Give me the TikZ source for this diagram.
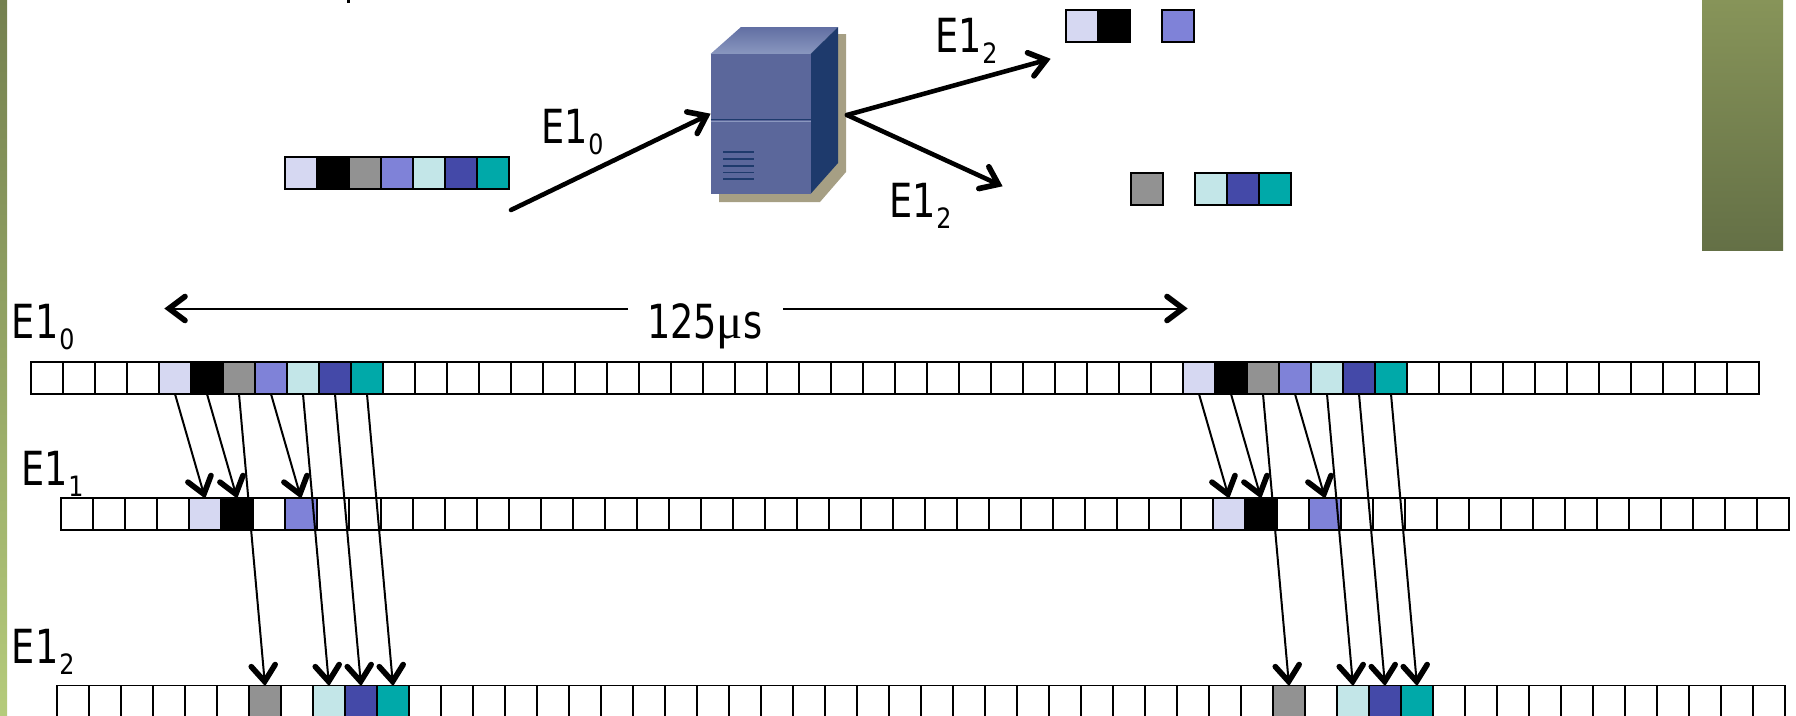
\documentclass[tikz,border=0pt]{standalone}
\usepackage{fontspec}
\usetikzlibrary{arrows.meta,shapes.geometric}
\newfontfamily\lblfont[FakeStretch=0.78]{DejaVu Sans}
\newfontfamily\subfont[FakeStretch=0.85]{DejaVu Sans}
\newfontfamily\mufont{Liberation Serif}
\newcommand{\subdig}[1]{\raisebox{-11pt}{\subfont\fontsize{28}{28}\selectfont\hspace{1pt}#1}}
\definecolor{cA}{HTML}{D6D8F2}
\definecolor{cB}{HTML}{000000}
\definecolor{cC}{HTML}{929292}
\definecolor{cD}{HTML}{7F82D8}
\definecolor{cE}{HTML}{C3E6E8}
\definecolor{cF}{HTML}{4449A8}
\definecolor{cG}{HTML}{00A9A9}
\pgfdeclarearrow{
  name=VHead,
  setup code={
    \pgfarrowssettipend{0pt}
    \pgfarrowssetlineend{-4pt}
    \pgfarrowssetbackend{-22pt}
    \pgfarrowssetvisualbackend{-4pt}
  },
  drawing code={
    \pgfsetlinewidth{5.6pt}
    \pgfsetroundcap
    \pgfsetmiterjoin
    \pgfsetdash{}{0pt}
    \pgfpathmoveto{\pgfpoint{-20pt}{12pt}}
    \pgfpathlineto{\pgfpoint{-4pt}{0pt}}
    \pgfpathlineto{\pgfpoint{-20pt}{-12pt}}
    \pgfusepathqstroke
  }
}
\tikzset{
  x=1pt,y=-1pt,
  cell/.style={draw=black,line width=1.8pt,minimum width=32pt,minimum height=32pt,inner sep=0pt,outer sep=0pt,anchor=north west},
  lbl/.style={inner sep=0pt,outer sep=0pt,anchor=base west,font=\lblfont\fontsize{47}{47}\selectfont},
  thinarrow/.style={line width=2pt,-VHead},
  spanarrow/.style={line width=2pt,-VHead},
  bigarrow/.style={line width=4.6pt,line cap=round,-VHead},
}
\begin{document}
\begin{tikzpicture}
\useasboundingbox (0,0) rectangle (1796,715);
% side decorations
\shade[top color={rgb,255:red,116;green,128;blue,79},bottom color={rgb,255:red,181;green,203;blue,123}] (0,0) rectangle (7,715);
\shade[top color={rgb,255:red,135;green,148;blue,89},bottom color={rgb,255:red,100;green,112;blue,70}] (1702,0) rectangle (1783,250);
\fill[black] (346.5,0) rectangle (349.5,2.5);
% rows
\foreach \r/\x/\y in {0/31/362,1/61/498,2/57/685.5}{
  \foreach \i in {0,...,53}{
    \pgfmathsetmacro{\px}{\x+32*\i}
    \node[cell] (r\r c\i) at (\px,\y) {};
  }
}
\foreach \r/\i/\c in {0/4/cA,0/5/cB,0/6/cC,0/7/cD,0/8/cE,0/9/cF,0/10/cG,
  0/36/cA,0/37/cB,0/38/cC,0/39/cD,0/40/cE,0/41/cF,0/42/cG,
  1/4/cA,1/5/cB,1/7/cD,1/36/cA,1/37/cB,1/39/cD,
  2/6/cC,2/8/cE,2/9/cF,2/10/cG,2/38/cC,2/40/cE,2/41/cF,2/42/cG}{
  \node[cell,fill=\c] at (r\r c\i.north west) {};
}
% multiplexing arrows
\foreach \i in {4,5,7,36,37,39}{
  \draw[thinarrow] (r0c\i.south) -- (r1c\i.north);
}
\foreach \i in {6,8,9,10,38,40,41,42}{
  \draw[thinarrow] (r0c\i.south) -- (r2c\i.north);
}
% top stream
\foreach \i/\c in {0/cA,1/cB,2/cC,3/cD,4/cE,5/cF,6/cG}{
  \pgfmathsetmacro{\px}{285+32*\i}
  \node[cell,fill=\c] (s\i) at (\px,157) {};
}
\node[cell,fill=cA] (ua) at (1066,10) {};
\node[cell,fill=cB] (ub) at (1098,10) {};
\node[cell,fill=cD] (uc) at (1162,10) {};
\node[cell,fill=cC] (la) at (1131,173) {};
\node[cell,fill=cE] (lb) at (1195,173) {};
\node[cell,fill=cF] (lc) at (1227,173) {};
\node[cell,fill=cG] (ld) at (1259,173) {};
% server
\fill[fill={rgb,255:red,166;green,159;blue,132}] (830,34) -- (846,34) -- (846,172) -- (820,202) -- (719,202) -- (719,190) -- cycle;
\shade[top color={rgb,255:red,97;green,111;blue,163},bottom color={rgb,255:red,138;green,151;blue,191}] (710.5,54) -- (741,27) -- (838,27) -- (810.5,54) -- cycle;
\fill[fill={rgb,255:red,30;green,58;blue,108}] (810.5,54) -- (838,27) -- (838,163) -- (810.5,194) -- cycle;
\fill[fill={rgb,255:red,91;green,103;blue,155}] (710.5,54) rectangle (810.5,194);
\draw[line width=1.5pt,color={rgb,255:red,30;green,58;blue,108}] (710.5,119.5) -- (810.5,119.5);
\draw[line width=1pt,color={rgb,255:red,138;green,151;blue,191}] (710.5,121.5) -- (810.5,121.5);
\foreach \y in {152,159,166,172.5,179}{
  \draw[line width=1.5pt,color={rgb,255:red,30;green,58;blue,108}] (723,\y) -- (754,\y);
}
% top arrows
\coordinate (inS) at (511,210);
\coordinate (inE) at (710,114);
\coordinate (outS) at (847,115);
\coordinate (outU) at (1050,59);
\coordinate (outL) at (1002,186);
\draw[bigarrow] (inS) -- (inE);
\draw[bigarrow] (outS) -- (outU);
\draw[bigarrow] (outS) -- (outL);
% 125 us
\node[lbl] (span) at (647,338) {125{\mufont\fontsize{49}{49}\selectfont μ}s};
\coordinate (spanLs) at (628,308.5);
\coordinate (spanLe) at (165,308.5);
\coordinate (spanRs) at (783,308.5);
\coordinate (spanRe) at (1187,308.5);
\draw[spanarrow] (spanLs) -- (spanLe);
\draw[spanarrow] (spanRs) -- (spanRe);
% labels
\node[lbl] (l0) at (12,338) {E1\subdig{0}};
\node[lbl] (l1) at (21,485) {E1\subdig{1}};
\node[lbl] (l2) at (12,663) {E1\subdig{2}};
\node[lbl] (t0) at (541,143) {E1\subdig{0}};
\node[lbl] (t1) at (935,52) {E1\subdig{2}};
\node[lbl] (t2) at (889,217) {E1\subdig{2}};
\end{tikzpicture}
\end{document}
